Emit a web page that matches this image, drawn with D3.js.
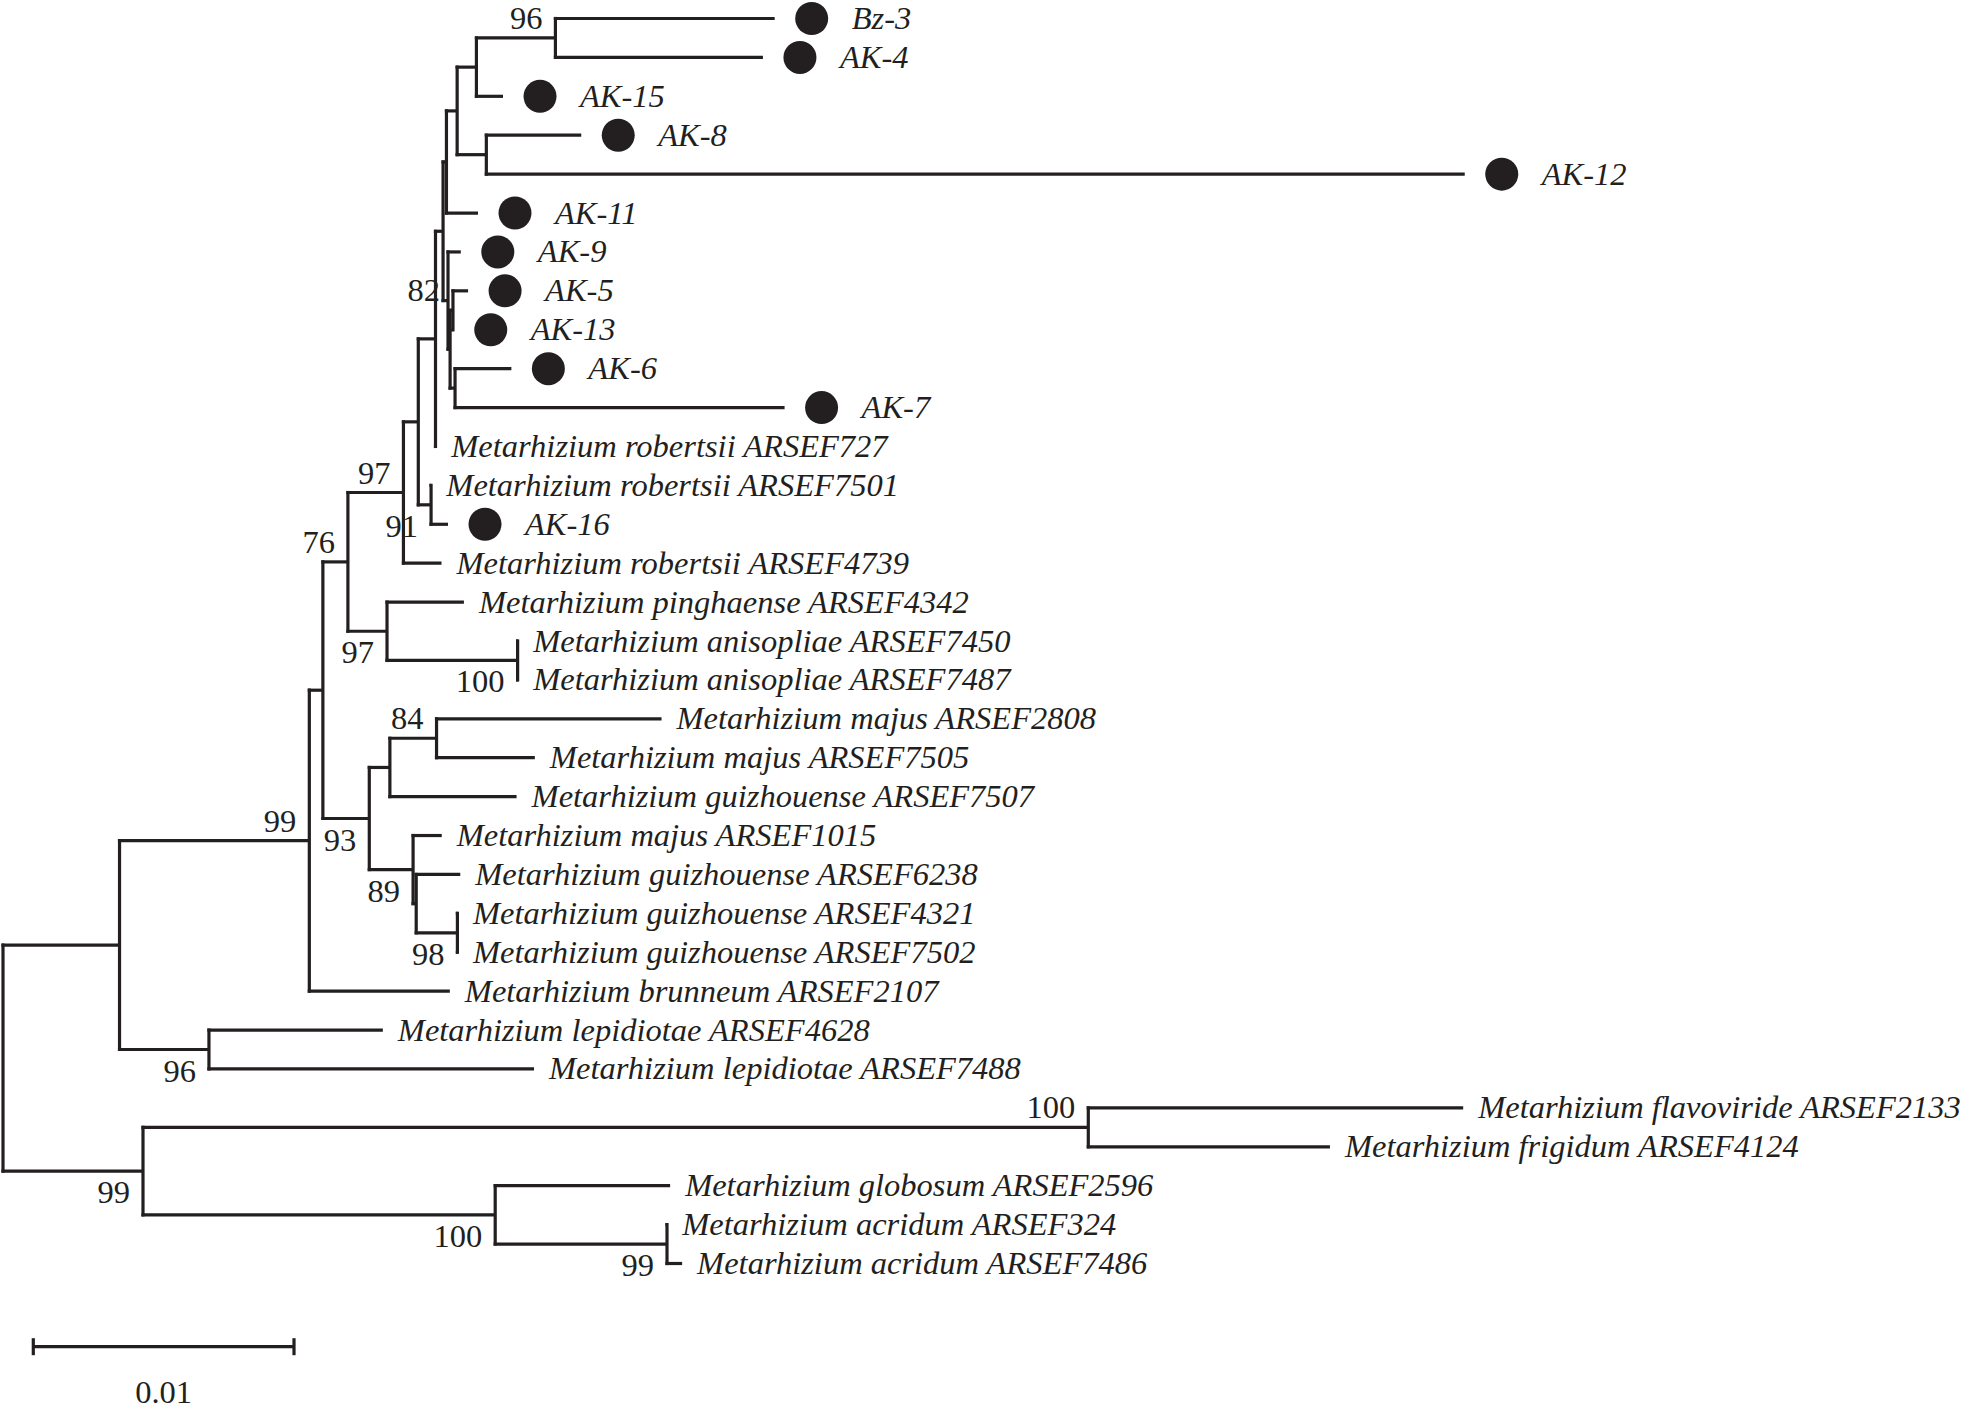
<!DOCTYPE html>
<html>
<head>
<meta charset="utf-8">
<script src="https://cdn.jsdelivr.net/npm/d3@7"></script>
<style>
  html, body { margin: 0; padding: 0; background: #ffffff; }
  svg { display: block; }
  text { font-family: "Liberation Serif", "Times New Roman", serif; fill: #231f20; }
</style>
</head>
<body>
<svg id="chart" width="1962" height="1415"></svg>
<script>
// ---------- DATA ----------
// Leaf order (top to bottom)
const leafNames = [
  "Bz-3", "AK-4", "AK-15", "AK-8", "AK-12", "AK-11", "AK-9", "AK-5", "AK-13", "AK-6", "AK-7",
  "Metarhizium robertsii ARSEF727", "Metarhizium robertsii ARSEF7501", "AK-16",
  "Metarhizium robertsii ARSEF4739", "Metarhizium pinghaense ARSEF4342",
  "Metarhizium anisopliae ARSEF7450", "Metarhizium anisopliae ARSEF7487",
  "Metarhizium majus ARSEF2808", "Metarhizium majus ARSEF7505", "Metarhizium guizhouense ARSEF7507",
  "Metarhizium majus ARSEF1015", "Metarhizium guizhouense ARSEF6238",
  "Metarhizium guizhouense ARSEF4321", "Metarhizium guizhouense ARSEF7502",
  "Metarhizium brunneum ARSEF2107", "Metarhizium lepidiotae ARSEF4628", "Metarhizium lepidiotae ARSEF7488",
  "Metarhizium flavoviride ARSEF2133", "Metarhizium frigidum ARSEF4124",
  "Metarhizium globosum ARSEF2596", "Metarhizium acridum ARSEF324", "Metarhizium acridum ARSEF7486"
];

// Isolates marked with a filled dot
const isolates = ["Bz-3", "AK-4", "AK-15", "AK-8", "AK-12", "AK-11", "AK-9", "AK-5", "AK-13", "AK-6", "AK-7", "AK-16"];

// Tree edges: [node, parent, branch length (substitutions/site)]
const edges = [
  ["root", null, 0],
  ["I1", "root", 0.00447],
  ["N99a", "I1", 0.00728],
  ["U", "N99a", 0.00052],
  ["N76", "U", 0.00096],
  ["N97u", "N76", 0.00213],
  ["E", "N97u", 0.00057],
  ["F", "E", 0.00066],
  ["G", "F", 0.00029],
  ["D", "G", 0.00013],
  ["C", "D", 0.00041],
  ["A", "C", 0.00074],
  ["N96", "A", 0.00303],
  ["Bz-3", "N96", 0.00841],
  ["AK-4", "N96", 0.00796],
  ["AK-15", "A", 0.00102],
  ["B", "C", 0.00112],
  ["AK-8", "B", 0.00364],
  ["AK-12", "B", 0.03753],
  ["AK-11", "D", 0.00121],
  ["X", "G", 0.00019],
  ["AK-9", "X", 0.00049],
  ["Y", "X", 0.00008],
  ["K", "Y", 0.00011],
  ["AK-5", "K", 0.00058],
  ["AK-13", "K", 0.00003],
  ["L", "Y", 0.00019],
  ["AK-6", "L", 0.00216],
  ["AK-7", "L", 0.01264],
  ["Metarhizium robertsii ARSEF727", "F", 0.00003],
  ["N91", "E", 0.00049],
  ["Metarhizium robertsii ARSEF7501", "N91", 0.00001],
  ["AK-16", "N91", 0.00065],
  ["Metarhizium robertsii ARSEF4739", "N97u", 0.00146],
  ["N97l", "N76", 0.0015],
  ["Metarhizium pinghaense ARSEF4342", "N97l", 0.00295],
  ["N100a", "N97l", 0.00501],
  ["Metarhizium anisopliae ARSEF7450", "N100a", 0.00002],
  ["Metarhizium anisopliae ARSEF7487", "N100a", 0.00002],
  ["N93", "U", 0.00178],
  ["S", "N93", 0.00079],
  ["N84", "S", 0.00179],
  ["Metarhizium majus ARSEF2808", "N84", 0.00863],
  ["Metarhizium majus ARSEF7505", "N84", 0.00377],
  ["Metarhizium guizhouense ARSEF7507", "S", 0.00486],
  ["N89", "N93", 0.00168],
  ["Metarhizium majus ARSEF1015", "N89", 0.0011],
  ["T", "N89", 0.00012],
  ["Metarhizium guizhouense ARSEF6238", "T", 0.00169],
  ["N98", "T", 0.00158],
  ["Metarhizium guizhouense ARSEF4321", "N98", 0.00002],
  ["Metarhizium guizhouense ARSEF7502", "N98", 0.00002],
  ["Metarhizium brunneum ARSEF2107", "N99a", 0.00539],
  ["N96b", "I1", 0.00343],
  ["Metarhizium lepidiotae ARSEF4628", "N96b", 0.00667],
  ["Metarhizium lepidiotae ARSEF7488", "N96b", 0.01247],
  ["N99b", "root", 0.00537],
  ["N100f", "N99b", 0.03626],
  ["Metarhizium flavoviride ARSEF2133", "N100f", 0.01438],
  ["Metarhizium frigidum ARSEF4124", "N100f", 0.00927],
  ["N100g", "N99b", 0.01351],
  ["Metarhizium globosum ARSEF2596", "N100g", 0.00671],
  ["N99c", "N100g", 0.00659],
  ["Metarhizium acridum ARSEF324", "N99c", 0.00001],
  ["Metarhizium acridum ARSEF7486", "N99c", 0.00058]
];

// Bootstrap support: [node, value]
const bootstrap = [
  ["N96", 96], ["K", 82], ["N97u", 97], ["N91", 91], ["N76", 76], ["N97l", 97],
  ["N100a", 100], ["N84", 84], ["N93", 93], ["N89", 89], ["N98", 98], ["N99a", 99],
  ["N96b", 96], ["N99b", 99], ["N100f", 100], ["N100g", 100], ["N99c", 99]
];
// Bootstrap labels drawn below the branch (others above)
const bootstrapBelow = ["N91", "N97l", "N100a", "N93", "N89", "N98", "N96b", "N99b", "N100g", "N99c"];

// Scale bar
const scaleBarValue = 0.01;
const scaleBarLabel = "0.01";

// ---------- LAYOUT ----------
const svg = d3.select("#chart");
svg.append("rect").attr("width", 1962).attr("height", 1415).attr("fill", "#ffffff");

const ink = "#231f20";
const strokeW = 3.2;
const fontSize = 32.5;

const root = d3.stratify()
  .id(d => d[0])
  .parentId(d => d[1])(edges);

// cumulative distance from root
root.each(n => { n.dist = n.parent ? n.parent.dist + n.data[2] : 0; });

const x = d3.scaleLinear().domain([0, 0.01]).range([3, 263.7]);
const y = d3.scaleLinear().domain([0, leafNames.length - 1]).range([18.5, 1263.5]);

root.eachAfter(n => {
  if (!n.children) n.yv = y(leafNames.indexOf(n.id));
  else n.yv = (n.children[0].yv + n.children[n.children.length - 1].yv) / 2;
  n.xv = x(n.dist);
});

const g = svg.append("g");

// horizontal branches
g.selectAll("line.h")
  .data(root.descendants().filter(n => n.parent))
  .join("line")
  .attr("class", "h")
  .attr("x1", n => n.parent.xv - strokeW / 2)
  .attr("x2", n => n.xv)
  .attr("y1", n => n.yv).attr("y2", n => n.yv)
  .attr("stroke", ink).attr("stroke-width", strokeW);

// vertical connectors
g.selectAll("line.v")
  .data(root.descendants().filter(n => n.children))
  .join("line")
  .attr("class", "v")
  .attr("x1", n => n.xv).attr("x2", n => n.xv)
  .attr("y1", n => n.children[0].yv - strokeW / 2)
  .attr("y2", n => n.children[n.children.length - 1].yv + strokeW / 2)
  .attr("stroke", ink).attr("stroke-width", strokeW);

// leaves
const leaves = root.leaves();
const dotGap = 37, dotR = 16.5, dotLabelGap = 40, labelGap = 15;

g.selectAll("circle.iso")
  .data(leaves.filter(n => isolates.includes(n.id)))
  .join("circle")
  .attr("class", "iso")
  .attr("cx", n => n.xv + dotGap)
  .attr("cy", n => n.yv)
  .attr("r", dotR)
  .attr("fill", ink);

g.selectAll("text.leaf")
  .data(leaves)
  .join("text")
  .attr("class", "leaf")
  .attr("x", n => isolates.includes(n.id) ? n.xv + dotGap + dotLabelGap : n.xv + labelGap)
  .attr("y", n => n.yv + 10.5)
  .attr("font-size", fontSize)
  .attr("font-style", "italic")
  .text(n => n.id);

// bootstrap values
const byId = new Map(root.descendants().map(n => [n.id, n]));
g.selectAll("text.bs")
  .data(bootstrap)
  .join("text")
  .attr("class", "bs")
  .attr("text-anchor", "end")
  .attr("x", d => byId.get(d[0]).xv - 13)
  .attr("y", d => byId.get(d[0]).yv + (bootstrapBelow.includes(d[0]) ? 32 : -9))
  .attr("font-size", fontSize)
  .text(d => d[1]);

// scale bar
const sbY = 1346.7, sbX0 = x(0) + 30.3;
const sbX1 = sbX0 + (x(scaleBarValue) - x(0));
const sb = svg.append("g");
sb.append("line").attr("x1", sbX0).attr("x2", sbX1).attr("y1", sbY).attr("y2", sbY)
  .attr("stroke", ink).attr("stroke-width", strokeW);
[sbX0, sbX1].forEach(xx => {
  sb.append("line").attr("x1", xx).attr("x2", xx).attr("y1", sbY - 8.5).attr("y2", sbY + 8.5)
    .attr("stroke", ink).attr("stroke-width", strokeW);
});
sb.append("text").attr("x", (sbX0 + sbX1) / 2).attr("y", 1403)
  .attr("text-anchor", "middle").attr("font-size", fontSize).text(scaleBarLabel);
</script>
</body>
</html>
